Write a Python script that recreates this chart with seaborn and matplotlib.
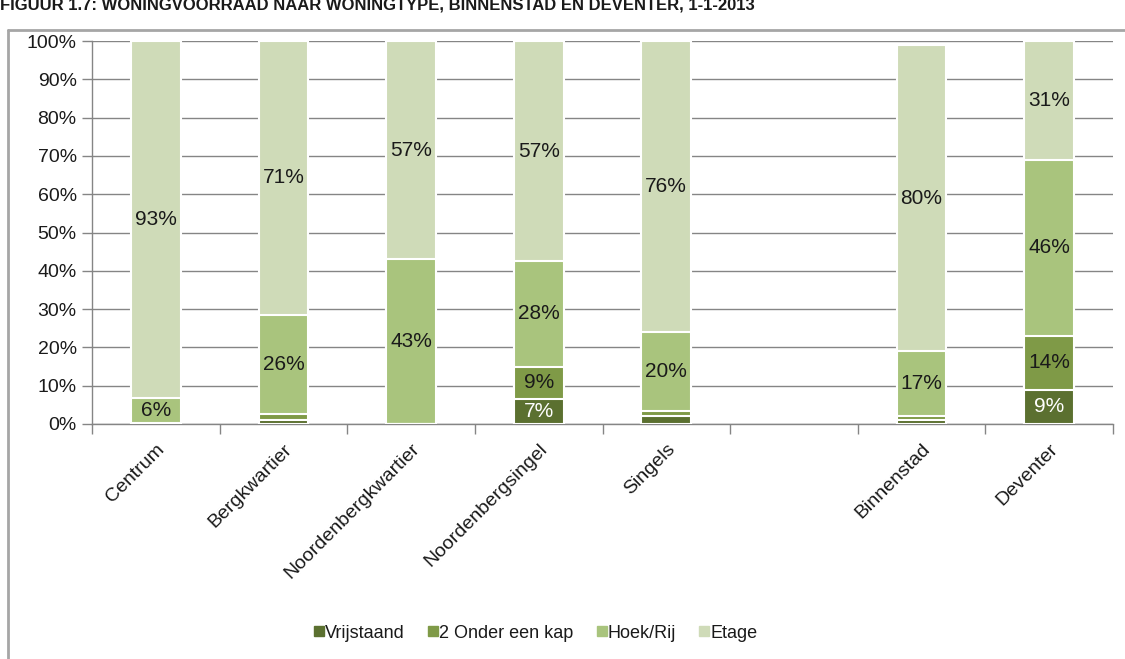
import matplotlib
matplotlib.use("Agg")
import matplotlib.pyplot as plt
import seaborn as sns
import pandas as pd
import numpy as np
from matplotlib.lines import Line2D
from matplotlib.ticker import FixedLocator, FuncFormatter

# ---- data ----
categories = ["Centrum", "Bergkwartier", "Noordenbergkwartier", "Noordenbergsingel",
              "Singels", "", "Binnenstad", "Deventer"]
data_categories = ["Centrum", "Bergkwartier", "Noordenbergkwartier", "Noordenbergsingel",
                   "Singels", "Binnenstad", "Deventer"]
series = ["Vrijstaand", "2 Onder een kap", "Hoek/Rij", "Etage"]
vrijstaand = [0.0, 1.0, 0.0, 6.5, 2.0, 1.0, 9.0]
onder_een_kap = [0.3, 1.5, 0.0, 8.5, 1.5, 1.0, 14.0]
hoek_rij = [6.5, 26.0, 43.0, 27.5, 20.5, 17.0, 46.0]
etage = [93.2, 71.5, 57.0, 57.5, 76.0, 80.0, 31.0]
labels_vrij = ["", "", "", "7%", "", "", "9%"]
labels_kap = ["", "", "", "9%", "", "", "14%"]
labels_hoek = ["6%", "26%", "43%", "28%", "20%", "17%", "46%"]
labels_etage = ["93%", "71%", "57%", "57%", "76%", "80%", "31%"]

colors = ["#5b7030", "#7f9a47", "#a9c47d", "#cfdbb8"]
label_colors = ["white", "#1a1a1a", "#1a1a1a", "#1a1a1a"]

title = "FIGUUR 1.7: WONINGVOORRAAD NAAR WONINGTYPE, BINNENSTAD EN DEVENTER, 1-1-2013"

# ---- build frame ----
vals = np.array([vrijstaand, onder_een_kap, hoek_rij, etage])
cum = np.cumsum(vals, axis=0)
df = pd.DataFrame({"cat": data_categories})
for i, s in enumerate(series):
    df[s] = vals[i]
    df[s + "_cum"] = cum[i]

sns.set_theme(style="white")
plt.rcParams["font.family"] = ["Liberation Sans", "DejaVu Sans"]

fig = plt.figure(figsize=(11.25, 6.59), dpi=100)
ax = fig.add_axes([92 / 1125, 1 - 424 / 659, (1113 - 92) / 1125, (424 - 41) / 659])

# draw cumulative bars back to front
for i in reversed(range(4)):
    sns.barplot(data=df, x="cat", y=series[i] + "_cum", order=categories,
                color=colors[i], width=0.39, saturation=1, ax=ax,
                edgecolor="white", linewidth=1.5, zorder=3)

# labels
all_labels = [labels_vrij, labels_kap, labels_hoek, labels_etage]
for j, cat in enumerate(data_categories):
    xpos = categories.index(cat)
    for i in range(4):
        lab = all_labels[i][j]
        if lab:
            lo = cum[i][j] - vals[i][j]
            ymid = (lo + cum[i][j]) / 2
            ax.text(xpos, ymid, lab, ha="center", va="center", fontsize=15,
                    color=label_colors[i], zorder=5)

ax.set_ylim(0, 100)
ax.set_xlim(-0.5, len(categories) - 0.5)
ax.yaxis.set_major_locator(FixedLocator(np.arange(0, 101, 10)))
ax.yaxis.set_major_formatter(FuncFormatter(lambda v, p: f"{int(v)}%"))
ax.grid(axis="y", color="#858585", linewidth=1.0, zorder=0)
ax.set_axisbelow(True)
ax.set_xlabel("")
ax.set_ylabel("")

for sp in ["top", "right"]:
    ax.spines[sp].set_visible(False)
for sp in ["left", "bottom"]:
    ax.spines[sp].set_color("#858585")
    ax.spines[sp].set_linewidth(1.0)

ax.tick_params(axis="y", which="major", length=7, width=1, color="#858585",
               direction="out", labelsize=14, pad=4, left=True, labelcolor="#1a1a1a")
ax.set_xticks(range(len(categories)))
ax.set_xticklabels(categories, rotation=45, ha="right", rotation_mode="anchor",
                   fontsize=14, color="#1a1a1a")
ax.tick_params(axis="x", which="major", length=0, pad=12)
ax.set_xticks(np.arange(-0.5, len(categories), 1.0), minor=True)
ax.tick_params(axis="x", which="minor", length=7, width=1, color="#858585",
               direction="out", bottom=True)

# legend
handles = [Line2D([0], [0], marker="s", linestyle="", markersize=6.5,
                  markerfacecolor=c, markeredgecolor=c) for c in colors]
fig.legend(handles, series, loc="center", bbox_to_anchor=(536 / 1125, 1 - 633 / 659),
           ncol=4, frameon=False, fontsize=13, handlelength=0.5, handletextpad=0.1,
           columnspacing=1.3, labelcolor="#1a1a1a")

# outer frame
fig.add_artist(Line2D([8 / 1125, 8 / 1125], [0, 1 - 30 / 659], color="#a6a6a6", lw=2,
                      transform=fig.transFigure))
fig.add_artist(Line2D([8 / 1125, 1.0], [1 - 30 / 659, 1 - 30 / 659], color="#a6a6a6", lw=2,
                      transform=fig.transFigure))

fig.text(0.0, 1 - 10 / 659, title, fontsize=12, fontweight="bold", ha="left",
         va="baseline", color="#1a1a1a")

fig.savefig("out.png", dpi=100)
